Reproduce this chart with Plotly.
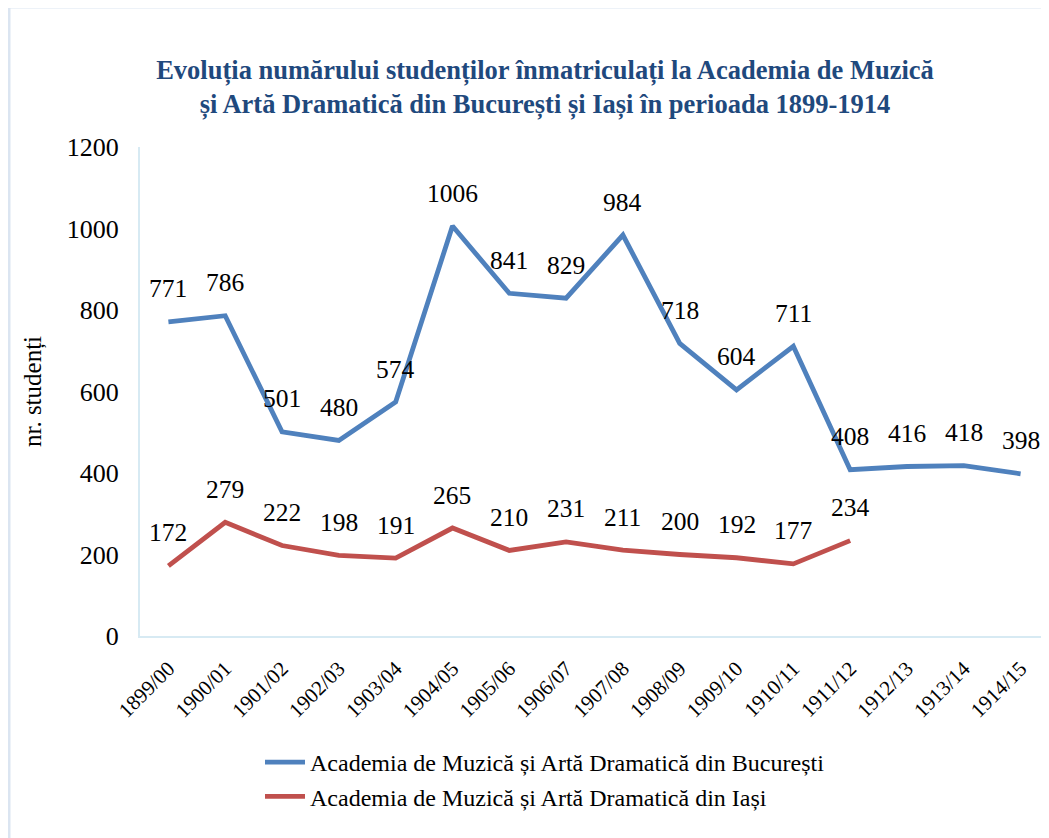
import plotly.graph_objects as go

categories = ["1899/00", "1900/01", "1901/02", "1902/03", "1903/04", "1904/05", "1905/06",
              "1906/07", "1907/08", "1908/09", "1909/10", "1910/11", "1911/12", "1912/13",
              "1913/14", "1914/15"]
bucuresti = [771, 786, 501, 480, 574, 1006, 841, 829, 984, 718, 604, 711, 408, 416, 418, 398]
iasi = [172, 279, 222, 198, 191, 265, 210, 231, 211, 200, 192, 177, 234, None, None, None]
name_b = "Academia de Muzică și Artă Dramatică din București"
name_i = "Academia de Muzică și Artă Dramatică din Iași"
title = ("Evoluția numărului studenților înmatriculați la Academia de Muzică<br>"
         "și Artă Dramatică din București și Iași în perioada 1899-1914")

OFF = 8  # page body margin
W, H = 1049 - OFF, 838 - OFF
L, T = 140 - OFF, 147 - OFF
BOT = 636 - OFF
B = H - BOT
PW, PH = W - L, BOT - T
serif = "Liberation Serif"

fig = go.Figure()
fig.add_trace(go.Scatter(x=categories, y=bucuresti, mode="lines", name=name_b,
                         line=dict(color="#4f81bd", width=4.8)))
fig.add_trace(go.Scatter(x=categories, y=iasi, mode="lines", name=name_i,
                         line=dict(color="#c0504d", width=4.8)))

annotations = []
for series in (bucuresti, iasi):
    for c, v in zip(categories, series):
        if v is None:
            continue
        annotations.append(dict(x=c, y=v, xref="x", yref="y", text=str(v), showarrow=False,
                                yshift=33, font=dict(family=serif, size=25.5, color="#000000")))

def px_x(p):
    return (p - OFF - L) / PW

def px_y(p):
    return (BOT - (p - OFF)) / PH

fig.update_layout(
    width=W, height=H,
    margin=dict(l=L, r=0, t=T, b=B),
    plot_bgcolor="white", paper_bgcolor="white",
    font=dict(family=serif),
    title=dict(text=title, x=(545 - OFF) / W, xref="container", xanchor="center",
               y=1 - (79 - OFF) / H, yref="container", yanchor="middle",
               font=dict(family=serif, size=26.5, color="#1f497d", weight="bold")),
    xaxis=dict(type="category", range=[-0.5, 15.5], showgrid=False, showline=True,
               linecolor="#d7eaf3", linewidth=2, tickangle=-45,
               ticks="outside", ticklen=10, tickcolor="rgba(0,0,0,0)",
               tickfont=dict(family=serif, size=21, color="#000000")),
    yaxis=dict(range=[0, 1200], dtick=200, showgrid=False, showline=True,
               linecolor="#d7eaf3", linewidth=2, zeroline=False,
               ticks="outside", ticklen=14, tickcolor="rgba(0,0,0,0)",
               tickfont=dict(family=serif, size=26, color="#000000"),
               title=dict(text="nr. studenți", standoff=18,
                          font=dict(family=serif, size=25, color="#000000"))),
    legend=dict(x=px_x(260), y=px_y(740), xanchor="left", yanchor="top",
                font=dict(family=serif, size=24, color="#000000"),
                tracegroupgap=0, itemwidth=40),
    annotations=annotations,
    shapes=[dict(type="rect", xref="paper", yref="paper",
                 x0=px_x(9), x1=px_x(1070), y0=px_y(860), y1=px_y(7),
                 line=dict(color="#dbe5f1", width=3), fillcolor="rgba(0,0,0,0)",
                 layer="below")],
)

fig.write_html("out.html")
